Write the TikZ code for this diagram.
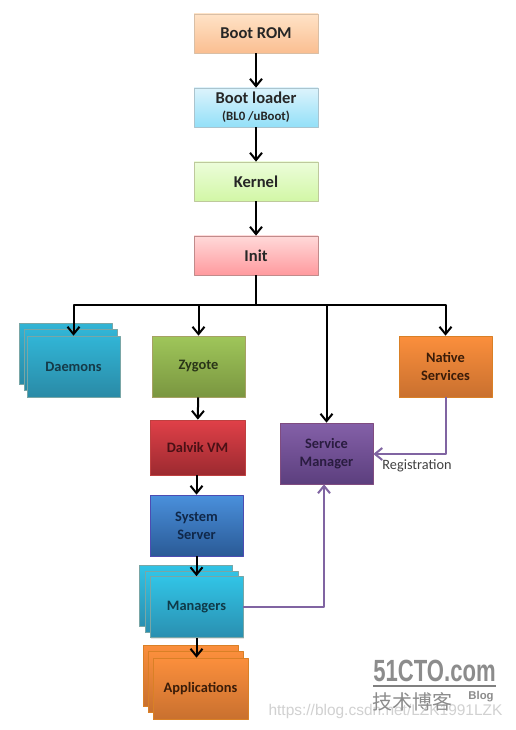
\documentclass[tikz,border=0pt]{standalone}
\usepackage{fontspec}
\setmainfont{Carlito}
\newfontfamily\cjkfont{Noto Sans CJK SC}
\newfontfamily\markfont{Liberation Sans}
\usetikzlibrary{arrows.meta,shadows}
\def\pxu{0.75pt}
\tikzset{
	stagebox/.style={draw=#1,line width=0.5pt,rectangle,inner sep=0pt,align=center,drop shadow={opacity=0.2,shadow xshift=0.6pt,shadow yshift=-0.8pt}},
	bootbox/.style={stagebox=#1,minimum width=124*\pxu,minimum height=39*\pxu,text=black!85,font=\bfseries\fontsize{12.4}{13}\selectfont},
	midbox/.style={stagebox=#1,minimum width=93*\pxu,minimum height=61*\pxu,font=\bfseries\fontsize{10.8}{13.5}\selectfont},
	romcol/.style={top color=orange!22!white,bottom color={rgb,255:red,250;green,190;blue,145}},
	loadcol/.style={top color={rgb,255:red,220;green,243;blue,252},bottom color={rgb,255:red,147;green,224;blue,248}},
	kernelcol/.style={top color={rgb,255:red,236;green,253;blue,218},bottom color={rgb,255:red,210;green,247;blue,166}},
	initcol/.style={top color={rgb,255:red,255;green,217;blue,217},bottom color={rgb,255:red,255;green,154;blue,158}},
	tealcol/.style={top color={rgb,255:red,49;green,181;blue,214},bottom color={rgb,255:red,42;green,138;blue,166},text={rgb,255:red,21;green,58;blue,72}},
	skycol/.style={top color={rgb,255:red,49;green,196;blue,230},bottom color={rgb,255:red,42;green,143;blue,176},text={rgb,255:red,15;green,58;blue,72}},
	olivecol/.style={top color={rgb,255:red,159;green,198;blue,90},bottom color={rgb,255:red,122;green,150;blue,64},text={rgb,255:red,42;green,53;blue,24}},
	redcol/.style={top color={rgb,255:red,224;green,64;blue,72},bottom color={rgb,255:red,156;green,42;blue,48},text={rgb,255:red,74;green,16;blue,21}},
	bluecol/.style={top color={rgb,255:red,74;green,144;blue,220},bottom color={rgb,255:red,42;green,90;blue,150},text={rgb,255:red,16;green,40;blue,74}},
	purplecol/.style={top color={rgb,255:red,132;green,96;blue,168},bottom color={rgb,255:red,92;green,63;blue,126},text={rgb,255:red,42;green,28;blue,64}},
	orangecol/.style={top color={rgb,255:red,251;green,143;blue,60},bottom color={rgb,255:red,201;green,112;blue,47},text={rgb,255:red,58;green,28;blue,8}},
	flow/.style={->,line width=1.5pt,black},
	regflow/.style={->,line width=1.5pt,color={rgb,255:red,128;green,100;blue,162}},
}
\begin{document}
\begin{tikzpicture}[x=\pxu,y=-\pxu,>={Straight Barb[length=5.5pt,width=9pt]},line join=round]
	\useasboundingbox (0,0) rectangle (515,730);
	\fill[white] (0,0) rectangle (515,730);
	% boot chain
	\node[bootbox=orange!40!gray!50,romcol] (bootrom) at (256,33.5) {Boot ROM};
	\node[bootbox=cyan!30!gray!60,loadcol] (bootloader) at (256,107.5) {Boot loader\\[0pt]{\fontsize{9.6}{10}\selectfont\mdseries\bfseries (BL0 /uBoot)}};
	\node[bootbox=lime!30!gray!60,kernelcol] (kernel) at (256,181.5) {Kernel};
	\node[bootbox=red!30!gray!70,initcol] (init) at (256,255.5) {Init};
	\coordinate (bus) at (256,305.5);
	% stacks
	\node[midbox=teal!50!gray!70,tealcol] (daemonsb) at (65.5,353.5) {};
	\node[midbox=teal!50!gray!70,tealcol] (daemonsm) at (70.5,359.5) {};
	\node[midbox=teal!50!gray!70,tealcol] (daemons) at (73.5,366.5) {Daemons};
	\node[midbox=teal!50!gray!70,skycol] (managersb) at (186,595.5) {};
	\node[midbox=teal!50!gray!70,skycol] (managersm) at (191.5,601.5) {};
	\node[midbox=teal!50!gray!70,skycol] (managers) at (196.5,607) {Managers};
	\node[midbox=orange!70!gray,orangecol,minimum width=95*\pxu] (appsb) at (190.5,675.5) {};
	\node[midbox=orange!70!gray,orangecol,minimum width=95*\pxu] (appsm) at (195.5,681.5) {};
	\node[midbox=orange!70!gray,orangecol,minimum width=95*\pxu] (apps) at (200.5,688.5) {Applications};
	% single boxes
	\node[midbox=olive!50!gray!80,olivecol] (zygote) at (198.5,366.5) {Zygote};
	\node[midbox=red!50!gray,redcol,minimum width=95*\pxu,minimum height=55*\pxu] (dalvik) at (197.5,447.5) {Dalvik VM};
	\node[midbox=blue!40!gray,bluecol] (sysserver) at (196.5,525.5) {System\\Server};
	\node[midbox=violet!40!gray,purplecol] (svcmgr) at (326.5,453.5) {Service\\Manager};
	\node[midbox=orange!70!gray,orangecol] (native) at (445.5,366.5) {Native\\Services};
	% connectors
	\draw[flow] (bootrom) -- (bootloader);
	\draw[flow] (bootloader) -- (kernel);
	\draw[flow] (kernel) -- (init);
	\draw[line width=1.5pt] (init) -- (bus);
	\draw[flow] (bus) -| (daemons.north);
	\draw[flow] (bus) -| (zygote.north);
	\draw[flow] (bus) -| (svcmgr.north);
	\draw[flow] (bus) -| (native.north);
	\draw[flow] (zygote) -- (dalvik);
	\draw[flow] (sysserver.north |- dalvik.south) -- (sysserver.north);
	\draw[flow] (sysserver) -- (managers);
	\draw[flow] (managers.south) -- (managers.south |- apps.north);
	\draw[regflow] (managers.east) -| (svcmgr.south -| 324,0);
	\draw[regflow] (native.south) |- (svcmgr.east |- 0,454);
	\node[font=\fontsize{10.7}{12}\selectfont,text=black!75] (reglabel) at (417,466) {Registration};
	% watermark
	\node[font=\markfont\fontsize{11.6}{12}\selectfont,text=black!18] (markurl) at (385.5,711.5) {https://blog.csdn.net/LZK1991LZK};
	\node[font=\markfont\bfseries\fontsize{23}{23}\selectfont,text=black!45,xscale=0.72] (mark) at (434.5,671) {51CTO.com};
	\coordinate (markl) at (373,686);
	\coordinate (markr) at (496,686);
	\draw[black!50,line width=1.5pt] (markl) -- (markr);
	\node[font=\cjkfont\fontsize{15}{15}\selectfont,text=black!45] (markcn) at (412,702) {技术博客};
	\node[font=\markfont\bfseries\fontsize{8.5}{9}\selectfont,text=black!45] (markblog) at (481,697) {Blog};
\end{tikzpicture}
\end{document}
